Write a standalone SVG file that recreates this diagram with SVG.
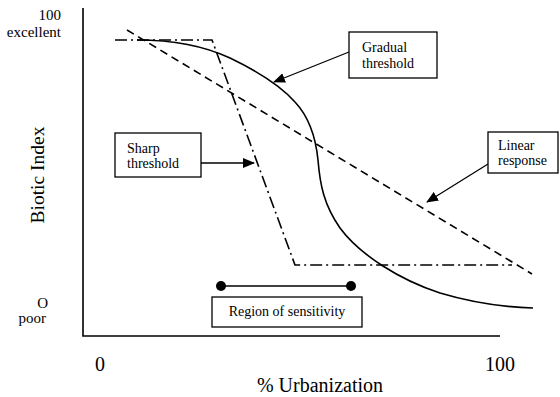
<svg xmlns="http://www.w3.org/2000/svg" width="560" height="397" viewBox="0 0 560 397">
<style>
text{font-family:"Liberation Serif","Times New Roman",serif;fill:#000}
.ax{stroke:#000;stroke-width:1.6;fill:none}
.curve{stroke:#000;stroke-width:1.6;fill:none}
.dash{stroke-dasharray:8 5}
.dashdot{stroke-dasharray:12 4 2 4}
.box{fill:#fff;stroke:#000;stroke-width:1.3}
.lbl{font-size:14px}
.conn{stroke:#000;stroke-width:1.3;fill:none}
</style>
<defs>
<marker id="ah" viewBox="0 0 12 10" refX="11" refY="5" markerWidth="12" markerHeight="10" markerUnits="userSpaceOnUse" orient="auto">
<path d="M0,0 L12,5 L0,10 Z" fill="#000"/>
</marker>
</defs>
<rect width="560" height="397" fill="#fff"/>
<g id="axes">
<path class="ax" d="M83,8 L83,336 L500,336"/>
<text x="61" y="20" font-size="15" text-anchor="end">100</text>
<text x="61" y="37" font-size="15" text-anchor="end">excellent</text>
<text x="48" y="308" font-size="15" text-anchor="end">O</text>
<text x="46" y="323" font-size="15" text-anchor="end">poor</text>
<text x="100" y="371" font-size="20" text-anchor="middle">0</text>
<text x="500" y="371" font-size="20" text-anchor="middle">100</text>
<text x="320" y="392" font-size="20" text-anchor="middle">% Urbanization</text>
<text transform="translate(44,175) rotate(-90)" font-size="19.5" text-anchor="middle">Biotic Index</text>
</g>
<g id="curves">
<path id="linear" class="curve dash" d="M127,30 L532,274"/>
<path id="sharp" class="curve dashdot" d="M115,40 L212,40 L295,265 L512,265"/>
<path id="gradual" class="curve" d="M137,40 C170,40 200,44 230,58 C255,70 280,85 295,102 C310,118 316,140 318,160 C320,185 324,205 340,228 C360,255 400,280 440,293 C470,302 500,307 533,308"/>
</g>
<g id="connectors">
<line class="conn" x1="349" y1="52" x2="274" y2="82" marker-end="url(#ah)"/>
<line class="conn" x1="201" y1="163" x2="254" y2="163" marker-end="url(#ah)"/>
<line class="conn" x1="488" y1="164" x2="427" y2="202" marker-end="url(#ah)"/>
<line class="conn" x1="221" y1="286" x2="351" y2="286" stroke-width="1.6"/>
<circle cx="221" cy="286" r="5"/>
<circle cx="351" cy="286" r="5"/>
</g>
<g id="gradual-threshold">
<rect class="box" x="349" y="32" width="88" height="46"/>
<text class="lbl" x="362" y="52">Gradual</text>
<text class="lbl" x="362" y="68">threshold</text>
</g>
<g id="sharp-threshold">
<rect class="box" x="115" y="133" width="86" height="44"/>
<text class="lbl" x="127" y="153">Sharp</text>
<text class="lbl" x="127" y="168">threshold</text>
</g>
<g id="linear-response">
<rect class="box" x="488" y="132" width="70" height="41"/>
<text class="lbl" x="498" y="150">Linear</text>
<text class="lbl" x="498" y="165">response</text>
</g>
<g id="region-of-sensitivity">
<rect class="box" x="212" y="297" width="150" height="30"/>
<text class="lbl" x="287" y="316" text-anchor="middle">Region of sensitivity</text>
</g>
</svg>
